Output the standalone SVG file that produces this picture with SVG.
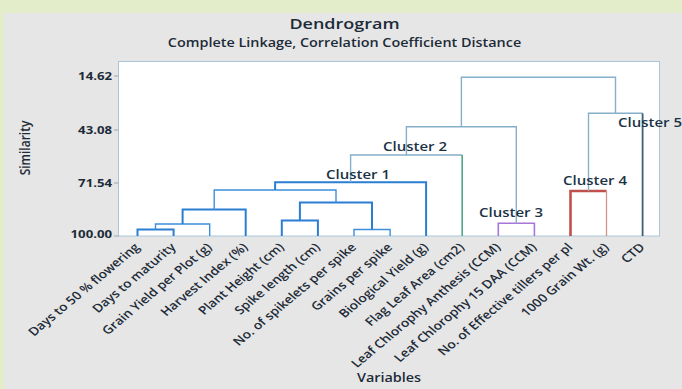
<svg xmlns="http://www.w3.org/2000/svg" width="682" height="389" viewBox="0 0 682 389">
<style>
  text { font-family: "Open Sans", "DejaVu Sans", sans-serif; fill: #1d2b38; }
  .t { font-size: 15px; font-weight: 600; }
  .st { font-size: 12px; font-weight: 600; }
  .tick { font-size: 11px; font-weight: 700; text-anchor: end; }
  .ax { font-size: 12px; font-weight: 600; }
  .lab { font-size: 11.5px; font-weight: 600; text-anchor: end; }
  .cl { font-size: 12.5px; font-weight: 600; fill: #1b3346; }
  .c1 { fill: none; stroke: #2b7fd3; stroke-width: 2; }
  .c1t { fill: none; stroke: #3d8fdc; stroke-width: 1.4; }
  .up { fill: none; stroke: #86afc9; stroke-width: 1.4; }
  .c2 { fill: none; stroke: #4fa884; stroke-width: 1.6; }
  .c3 { fill: none; stroke: #a677d8; stroke-width: 1.6; }
  .c4 { fill: none; stroke: #c0504d; stroke-width: 2.6; }
  .c4t { fill: none; stroke: #d4918c; stroke-width: 1.3; }
  .c5 { fill: none; stroke: #3c5f73; stroke-width: 1.8; }
</style>
<rect x="0" y="0" width="682" height="389" fill="#e3edc9"/>
<rect x="4" y="13" width="678" height="376" fill="#e6e6e6"/>
<g id="title">
  <text class="t" text-anchor="middle" transform="translate(344.5,28.5) scale(1.2,1)">Dendrogram</text>
  <text class="st" text-anchor="middle" transform="translate(344.5,47) scale(1.2,1)">Complete Linkage, Correlation Coefficient Distance</text>
</g>
<rect id="plot" x="118.5" y="61.5" width="541" height="174.5" fill="#ffffff" stroke="#aac6d8" stroke-width="1"/>
<g id="y-axis">
  <path d="M114 76H118.5M114 130H118.5M114 183H118.5M114 236H118.5" stroke="#9aa8b2" stroke-width="1"/>
  <text class="tick" transform="translate(112,80) scale(1.2,1)">14.62</text>
  <text class="tick" transform="translate(112,134) scale(1.2,1)">43.08</text>
  <text class="tick" transform="translate(112,187) scale(1.2,1)">71.54</text>
  <text class="tick" transform="translate(112,238) scale(1.2,1)">100.00</text>
  <text class="ax" text-anchor="middle" transform="translate(29.5,148) rotate(-90) scale(1,1.2)">Similarity</text>
</g>
<g id="connectors">
  <path class="c1" d="M137.5 236V229.5H173.6V236"/>
  <path class="c1t" d="M155.5 229.5V224H209.7V236"/>
  <path class="c1" d="M182.6 224V209.5H245.7V236"/>
  <path class="c1" d="M281.8 236V220.5H317.9V236"/>
  <path class="c1t" d="M354 236V229.5H390.1V236"/>
  <path class="c1" d="M299.9 220.5V202.5H372V229.5"/>
  <path class="c1t" d="M214.2 209.5V190H336V202.5"/>
  <path class="c1" d="M275.1 190V182.3H426.1V236"/>
  <path class="up" d="M350.6 182.3V155H462.2"/>
  <path class="c2" d="M462.2 155V236"/>
  <path class="c3" d="M498.3 236V223.3H534.4V236"/>
  <path class="up" d="M406.4 155V126.7H516.3V223.3"/>
  <path class="c4" d="M570.5 236V191H606.5"/>
  <path class="c4t" d="M606.5 191V236"/>
  <path class="up" d="M588.5 191V113.3H642.6"/>
  <path class="c5" d="M642.6 113.3V236"/>
  <path class="up" d="M461.4 126.7V77.3H615.5V113.3"/>
</g>
<g id="cluster-1"><text class="cl" transform="translate(326,178.5) scale(1.2,1)">Cluster 1</text></g>
<g id="cluster-2"><text class="cl" transform="translate(383,150.5) scale(1.2,1)">Cluster 2</text></g>
<g id="cluster-3"><text class="cl" transform="translate(479,216.5) scale(1.2,1)">Cluster 3</text></g>
<g id="cluster-4"><text class="cl" transform="translate(563,184.5) scale(1.2,1)">Cluster 4</text></g>
<g id="cluster-5"><text class="cl" transform="translate(618,126.5) scale(1.2,1)">Cluster 5</text></g>
<g id="leaf-0"><text class="lab" transform="translate(140.5,248) scale(1.2,1) rotate(-45)">Days to 50 % flowering</text></g>
<g id="leaf-1"><text class="lab" transform="translate(176.6,248) scale(1.2,1) rotate(-45)">Days to maturity</text></g>
<g id="leaf-2"><text class="lab" transform="translate(212.7,248) scale(1.2,1) rotate(-45)">Grain Yield per Plot (g)</text></g>
<g id="leaf-3"><text class="lab" transform="translate(248.7,248) scale(1.2,1) rotate(-45)">Harvest Index (%)</text></g>
<g id="leaf-4"><text class="lab" transform="translate(284.8,248) scale(1.2,1) rotate(-45)">Plant Height (cm)</text></g>
<g id="leaf-5"><text class="lab" transform="translate(320.9,248) scale(1.2,1) rotate(-45)">Spike length (cm)</text></g>
<g id="leaf-6"><text class="lab" transform="translate(357,248) scale(1.2,1) rotate(-45)">No. of spikelets per spike</text></g>
<g id="leaf-7"><text class="lab" transform="translate(393.1,248) scale(1.2,1) rotate(-45)">Grains per spike</text></g>
<g id="leaf-8"><text class="lab" transform="translate(429.1,248) scale(1.2,1) rotate(-45)">Biological Yield (g)</text></g>
<g id="leaf-9"><text class="lab" transform="translate(465.2,248) scale(1.2,1) rotate(-45)">Flag Leaf Area (cm2)</text></g>
<g id="leaf-10"><text class="lab" transform="translate(501.3,248) scale(1.2,1) rotate(-45)">Leaf Chlorophy Anthesis (CCM)</text></g>
<g id="leaf-11"><text class="lab" transform="translate(537.4,248) scale(1.2,1) rotate(-45)">Leaf Chlorophy 15 DAA (CCM)</text></g>
<g id="leaf-12"><text class="lab" transform="translate(573.5,248) scale(1.2,1) rotate(-45)">No. of Effective tillers per pl</text></g>
<g id="leaf-13"><text class="lab" transform="translate(609.5,248) scale(1.2,1) rotate(-45)">1000 Grain Wt. (g)</text></g>
<g id="leaf-14"><text class="lab" transform="translate(645.6,248) scale(1.2,1) rotate(-45)">CTD</text></g>
<g id="x-axis-title"><text class="ax" text-anchor="middle" transform="translate(389,382) scale(1.2,1)">Variables</text></g>
</svg>
